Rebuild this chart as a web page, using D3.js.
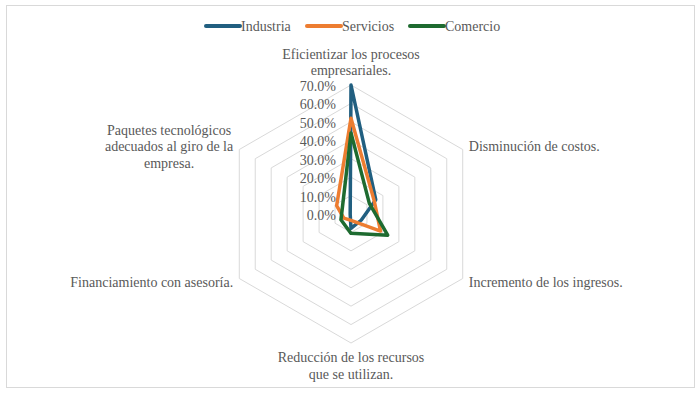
<!DOCTYPE html>
<html>
<head>
<meta charset="utf-8">
<script src="https://cdn.jsdelivr.net/npm/d3@7"></script>
<style>
  body { margin: 0; background: #fff; }
  svg text { font-family: "Liberation Serif", "Times New Roman", serif; font-size: 14px; fill: #595959; }
</style>
</head>
<body>
<div id="chart"></div>
<script>
(function () {
  const WIDTH = 699;
  const HEIGHT = 394;

  // ejes del radar (en sentido horario desde arriba)
  const categories = [
    "Eficientizar los procesos empresariales.",
    "Disminución de costos.",
    "Incremento de los ingresos.",
    "Reducción de los recursos que se utilizan.",
    "Financiamiento con asesoría.",
    "Paquetes tecnológicos adecuados al giro de la empresa."
  ];
  // cortes de línea de cada etiqueta
  const categoryLines = [
    ["Eficientizar los procesos", "empresariales."],
    ["Disminución de costos."],
    ["Incremento de los ingresos."],
    ["Reducción de los recursos", "que se utilizan."],
    ["Financiamiento con asesoría."],
    ["Paquetes tecnológicos", "adecuados al giro de la", "empresa."]
  ];

  const seriesNames = ["Industria", "Servicios", "Comercio"];
  const industria = [70.0, 15.5, 6.5, 7.8, 0.5, 0.5];
  const servicios = [52.0, 14.5, 18.5, 3.5, 4.5, 9.0];
  const comercio  = [44.0, 11.5, 23.0, 10.5, 6.3, 5.5];
  const seriesValues = [industria, servicios, comercio];

  const tickValues = [0, 10, 20, 30, 40, 50, 60, 70];
  const tickLabels = ["0.0%", "10.0%", "20.0%", "30.0%", "40.0%", "50.0%", "60.0%", "70.0%"];

  const colors = d3.scaleOrdinal()
    .domain(seriesNames)
    .range(["#215f80", "#ed7d31", "#1e6b30"]);

  const cx = 351, cy = 214;
  const r = d3.scaleLinear().domain([0, 70]).range([0, 129]);
  const angle = d3.scaleLinear().domain([0, categories.length]).range([0, 2 * Math.PI]);

  function point(i, v) {
    const a = angle(i);
    return [cx + r(v) * Math.sin(a), cy - r(v) * Math.cos(a)];
  }

  const svg = d3.select("#chart").append("svg")
    .attr("width", WIDTH)
    .attr("height", HEIGHT);

  // marco
  svg.append("rect")
    .attr("x", 6.5).attr("y", 5.5)
    .attr("width", 688).attr("height", 382)
    .attr("fill", "#fff")
    .attr("stroke", "#d9d9d9");

  const line = d3.line().curve(d3.curveLinearClosed);

  // anillos hexagonales
  svg.append("g").selectAll("path")
    .data(tickValues.filter(t => t > 0))
    .join("path")
    .attr("d", t => line(categories.map((c, i) => point(i, t))))
    .attr("fill", "none")
    .attr("stroke", "#d9d9d9")
    .attr("stroke-width", 1);

  // series
  svg.append("g").selectAll("path")
    .data(seriesNames)
    .join("path")
    .attr("d", (s, k) => line(seriesValues[k].map((v, i) => point(i, v))))
    .attr("fill", "none")
    .attr("stroke", s => colors(s))
    .attr("stroke-width", 3.5)
    .attr("stroke-linejoin", "round");

  // etiquetas del eje de valores
  svg.append("g").selectAll("text")
    .data(tickValues)
    .join("text")
    .attr("x", cx - 15)
    .attr("y", t => cy - r(t) + 6)
    .attr("text-anchor", "end")
    .text((t, i) => tickLabels[i]);

  // etiquetas de categorías
  const lh = 16.5;
  const labels = svg.append("g");
  categoryLines.forEach((lines, i) => {
    const [vx, vy] = point(i, 70);
    const a = angle(i);
    const dx = Math.sin(a), dy = -Math.cos(a);
    const px = vx + 7 * dx, py = vy + 7 * dy;
    const t = labels.append("text");
    let anchor, x, y0;
    if (Math.abs(dx) < 0.01) {
      anchor = "middle";
      x = px;
      y0 = dy < 0 ? py - 3 - (lines.length - 1) * lh : py + 12;
    } else {
      anchor = dx > 0 ? "start" : "end";
      x = px;
      y0 = py + 5 - (lines.length - 1) * lh / 2;
    }
    t.attr("text-anchor", anchor);
    lines.forEach((s, j) => {
      t.append("tspan").attr("x", x).attr("y", y0 + j * lh).text(s);
    });
    // bloques de varias líneas a la izquierda se centran entre sí
    if (anchor === "end" && lines.length > 1) {
      const w = d3.max(t.selectAll("tspan").nodes(), n => n.getComputedTextLength());
      t.attr("text-anchor", "middle");
      t.selectAll("tspan").attr("x", x - w / 2);
    }
  });

  // leyenda
  const legendX = [206, 307, 410];
  const legend = svg.append("g").selectAll("g")
    .data(seriesNames)
    .join("g")
    .attr("transform", (s, i) => `translate(${legendX[i]},26)`);
  legend.append("line")
    .attr("x1", 0).attr("x2", 34)
    .attr("stroke", s => colors(s))
    .attr("stroke-width", 4)
    .attr("stroke-linecap", "round");
  legend.append("text")
    .attr("x", 35).attr("y", 5)
    .text(s => s);
})();
</script>
</body>
</html>
